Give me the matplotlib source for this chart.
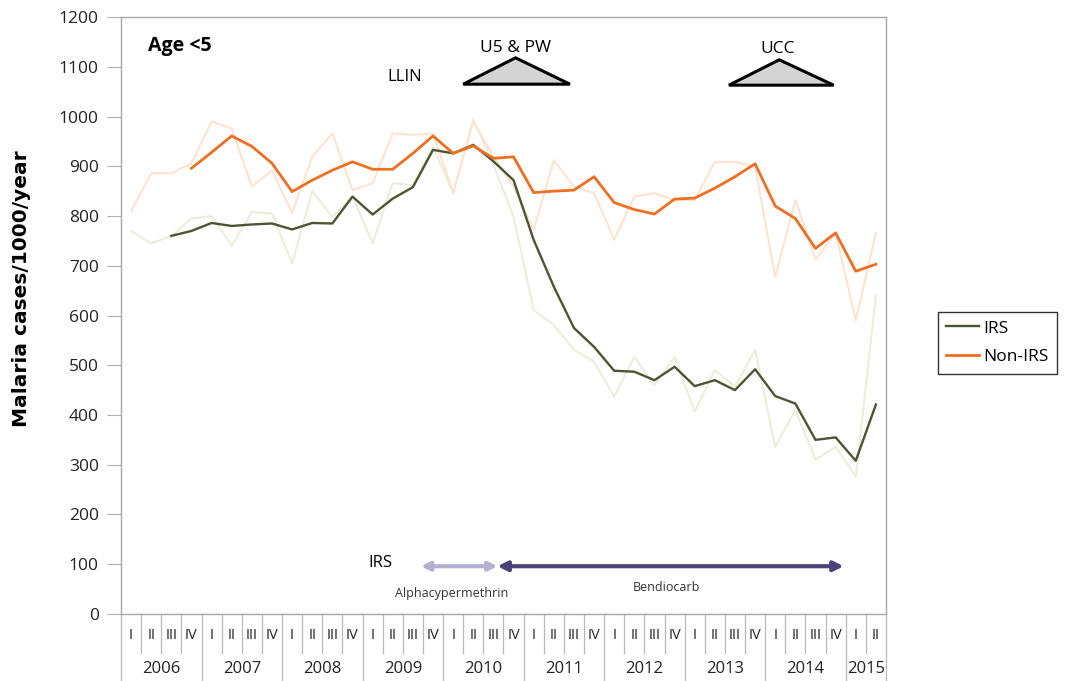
import numpy as np
import matplotlib
matplotlib.use("Agg")
import matplotlib.pyplot as plt
from matplotlib.patches import Polygon
import matplotlib.transforms as mtransforms

plt.rcParams['font.family'] = ['Open Sans', 'DejaVu Sans']

quarter_names = ["I", "II", "III", "IV"]
years = [2006, 2007, 2008, 2009, 2010, 2011, 2012, 2013, 2014, 2015]
quarters_per_year = [4, 4, 4, 4, 4, 4, 4, 4, 4, 2]

irs_raw = [770, 745, 760, 795, 800, 740, 808, 805, 705, 850, 798, 840, 745, 866,
           862, 940, 846, 995, 903, 798, 611, 581, 531, 507, 437, 517, 460, 517,
           407, 490, 457, 531, 336, 410, 310, 336, 276, 640]
nonirs_raw = [810, 886, 886, 906, 990, 976, 859, 892, 806, 919, 966, 852, 866, 966,
              963, 966, 846, 990, 920, 859, 772, 912, 859, 846, 752, 839, 846, 832,
              832, 909, 909, 899, 678, 832, 712, 766, 590, 766]
irs_trend = [None, None, 760, 770, 786, 780, 783, 785, 773, 786, 785, 839, 803, 835,
             858, 933, 926, 943, 910, 872, 752, 658, 575, 537, 489, 487, 470, 497,
             458, 470, 450, 492, 438, 423, 350, 355, 308, 421]
nonirs_trend = [None, None, None, 896, 928, 961, 940, 906, 849, 872, 892, 909, 894,
                894, 926, 961, 926, 941, 916, 919, 847, 850, 852, 879, 827, 813, 804,
                834, 836, 856, 879, 905, 820, 795, 735, 766, 689, 703]

series_names = ["IRS", "Non-IRS"]

fig = plt.figure(figsize=(10.66, 6.81), dpi=100)
ax = fig.add_axes([0.1135, 0.0984, 0.7176, 0.8766])

x = np.arange(len(irs_raw))
ax.plot(x, irs_raw, color='#eaeed9', lw=1.4, zorder=2)
ax.plot(x, nonirs_raw, color='#fde2d0', lw=1.4, zorder=2)
ax.plot(x, np.array(irs_trend, dtype=float), color='#4b5532', lw=1.7, zorder=4,
        label=series_names[0])
ax.plot(x, np.array(nonirs_trend, dtype=float), color='#ee6f22', lw=2.0, zorder=4,
        label=series_names[1])

ax.set_xlim(-0.5, len(irs_raw) - 0.5)
ax.set_ylim(0, 1200)
ax.set_yticks(np.arange(0, 1201, 100))
ax.tick_params(axis='y', labelsize=12.5, length=10, color='#b0b0b0', pad=6,
               labelcolor='#222222')
ax.set_xticks([])
for s in ax.spines.values():
    s.set_color('#a8a8a8')
    s.set_linewidth(1.0)

ax.set_ylabel("Malaria cases/1000/year", fontsize=14.5, fontweight='bold',
              family=['Liberation Sans Narrow', 'DejaVu Sans'])
ax.yaxis.set_label_coords(-0.117, 0.545)

# two-level x axis
trans = mtransforms.blended_transform_factory(ax.transData, ax.transAxes)
pos = 0
for yr, nq in zip(years, quarters_per_year):
    for q in range(nq):
        ax.text(pos + q, -0.036, quarter_names[q], transform=trans, ha='center',
                va='center', fontsize=10.5, color='#222222', clip_on=False)
        if q > 0:
            ax.plot([pos + q - 0.5] * 2, [0, -0.065], transform=trans, color='#b8b8b8',
                    lw=0.9, clip_on=False)
    ax.plot([pos - 0.5] * 2, [0, -0.115], transform=trans, color='#b8b8b8', lw=0.9,
            clip_on=False)
    ax.text(pos + (nq - 1) / 2, -0.092, str(yr), transform=trans, ha='center',
            va='center', fontsize=12, color='#222222', clip_on=False)
    pos += nq
ax.plot([pos - 0.5] * 2, [0, -0.115], transform=trans, color='#b8b8b8', lw=0.9,
        clip_on=False)

# annotations
ax.text(0.85, 1142, "Age <5", fontsize=14, fontweight='bold', ha='left', va='center')
ax.text(13.6, 1080, "LLIN", fontsize=12, ha='center', va='center')
ax.text(19.1, 1137, "U5 & PW", fontsize=12.5, ha='center', va='center')
ax.text(32.1, 1136, "UCC", fontsize=12.5, ha='center', va='center')
ax.add_patch(Polygon([[16.5, 1065], [19.1, 1118], [21.8, 1065]], closed=True,
                     facecolor='#d4d4d4', edgecolor='black', lw=2.2, zorder=5))
ax.add_patch(Polygon([[29.7, 1063], [32.2, 1114], [34.9, 1063]], closed=True,
                     facecolor='#d4d4d4', edgecolor='black', lw=2.2, zorder=5))

ax.text(12.4, 102, "IRS", fontsize=12, ha='center', va='center')
ax.annotate("", xy=(18.2, 96), xytext=(14.4, 96),
            arrowprops=dict(arrowstyle='<|-|>', color='#b3b0d2', lw=3,
                            mutation_scale=12, shrinkA=0, shrinkB=0))
ax.annotate("", xy=(35.4, 96), xytext=(18.2, 96),
            arrowprops=dict(arrowstyle='<|-|>', color='#4a4278', lw=3,
                            mutation_scale=14, shrinkA=0, shrinkB=0))
ax.text(15.9, 42, "Alphacypermethrin", fontsize=9, ha='center', va='center',
        color='#333333')
ax.text(26.6, 54, "Bendiocarb", fontsize=9, ha='center', va='center', color='#333333')

leg = fig.legend(loc='upper left', bbox_to_anchor=(929 / 1066, 1 - 303 / 681),
                 fontsize=12.5, frameon=True, fancybox=False, handlelength=1.9,
                 handletextpad=0.2, borderpad=0.5, labelspacing=0.7)
leg.get_frame().set_edgecolor('black')
leg.get_frame().set_linewidth(1.0)

fig.savefig("out.png", dpi=100)
